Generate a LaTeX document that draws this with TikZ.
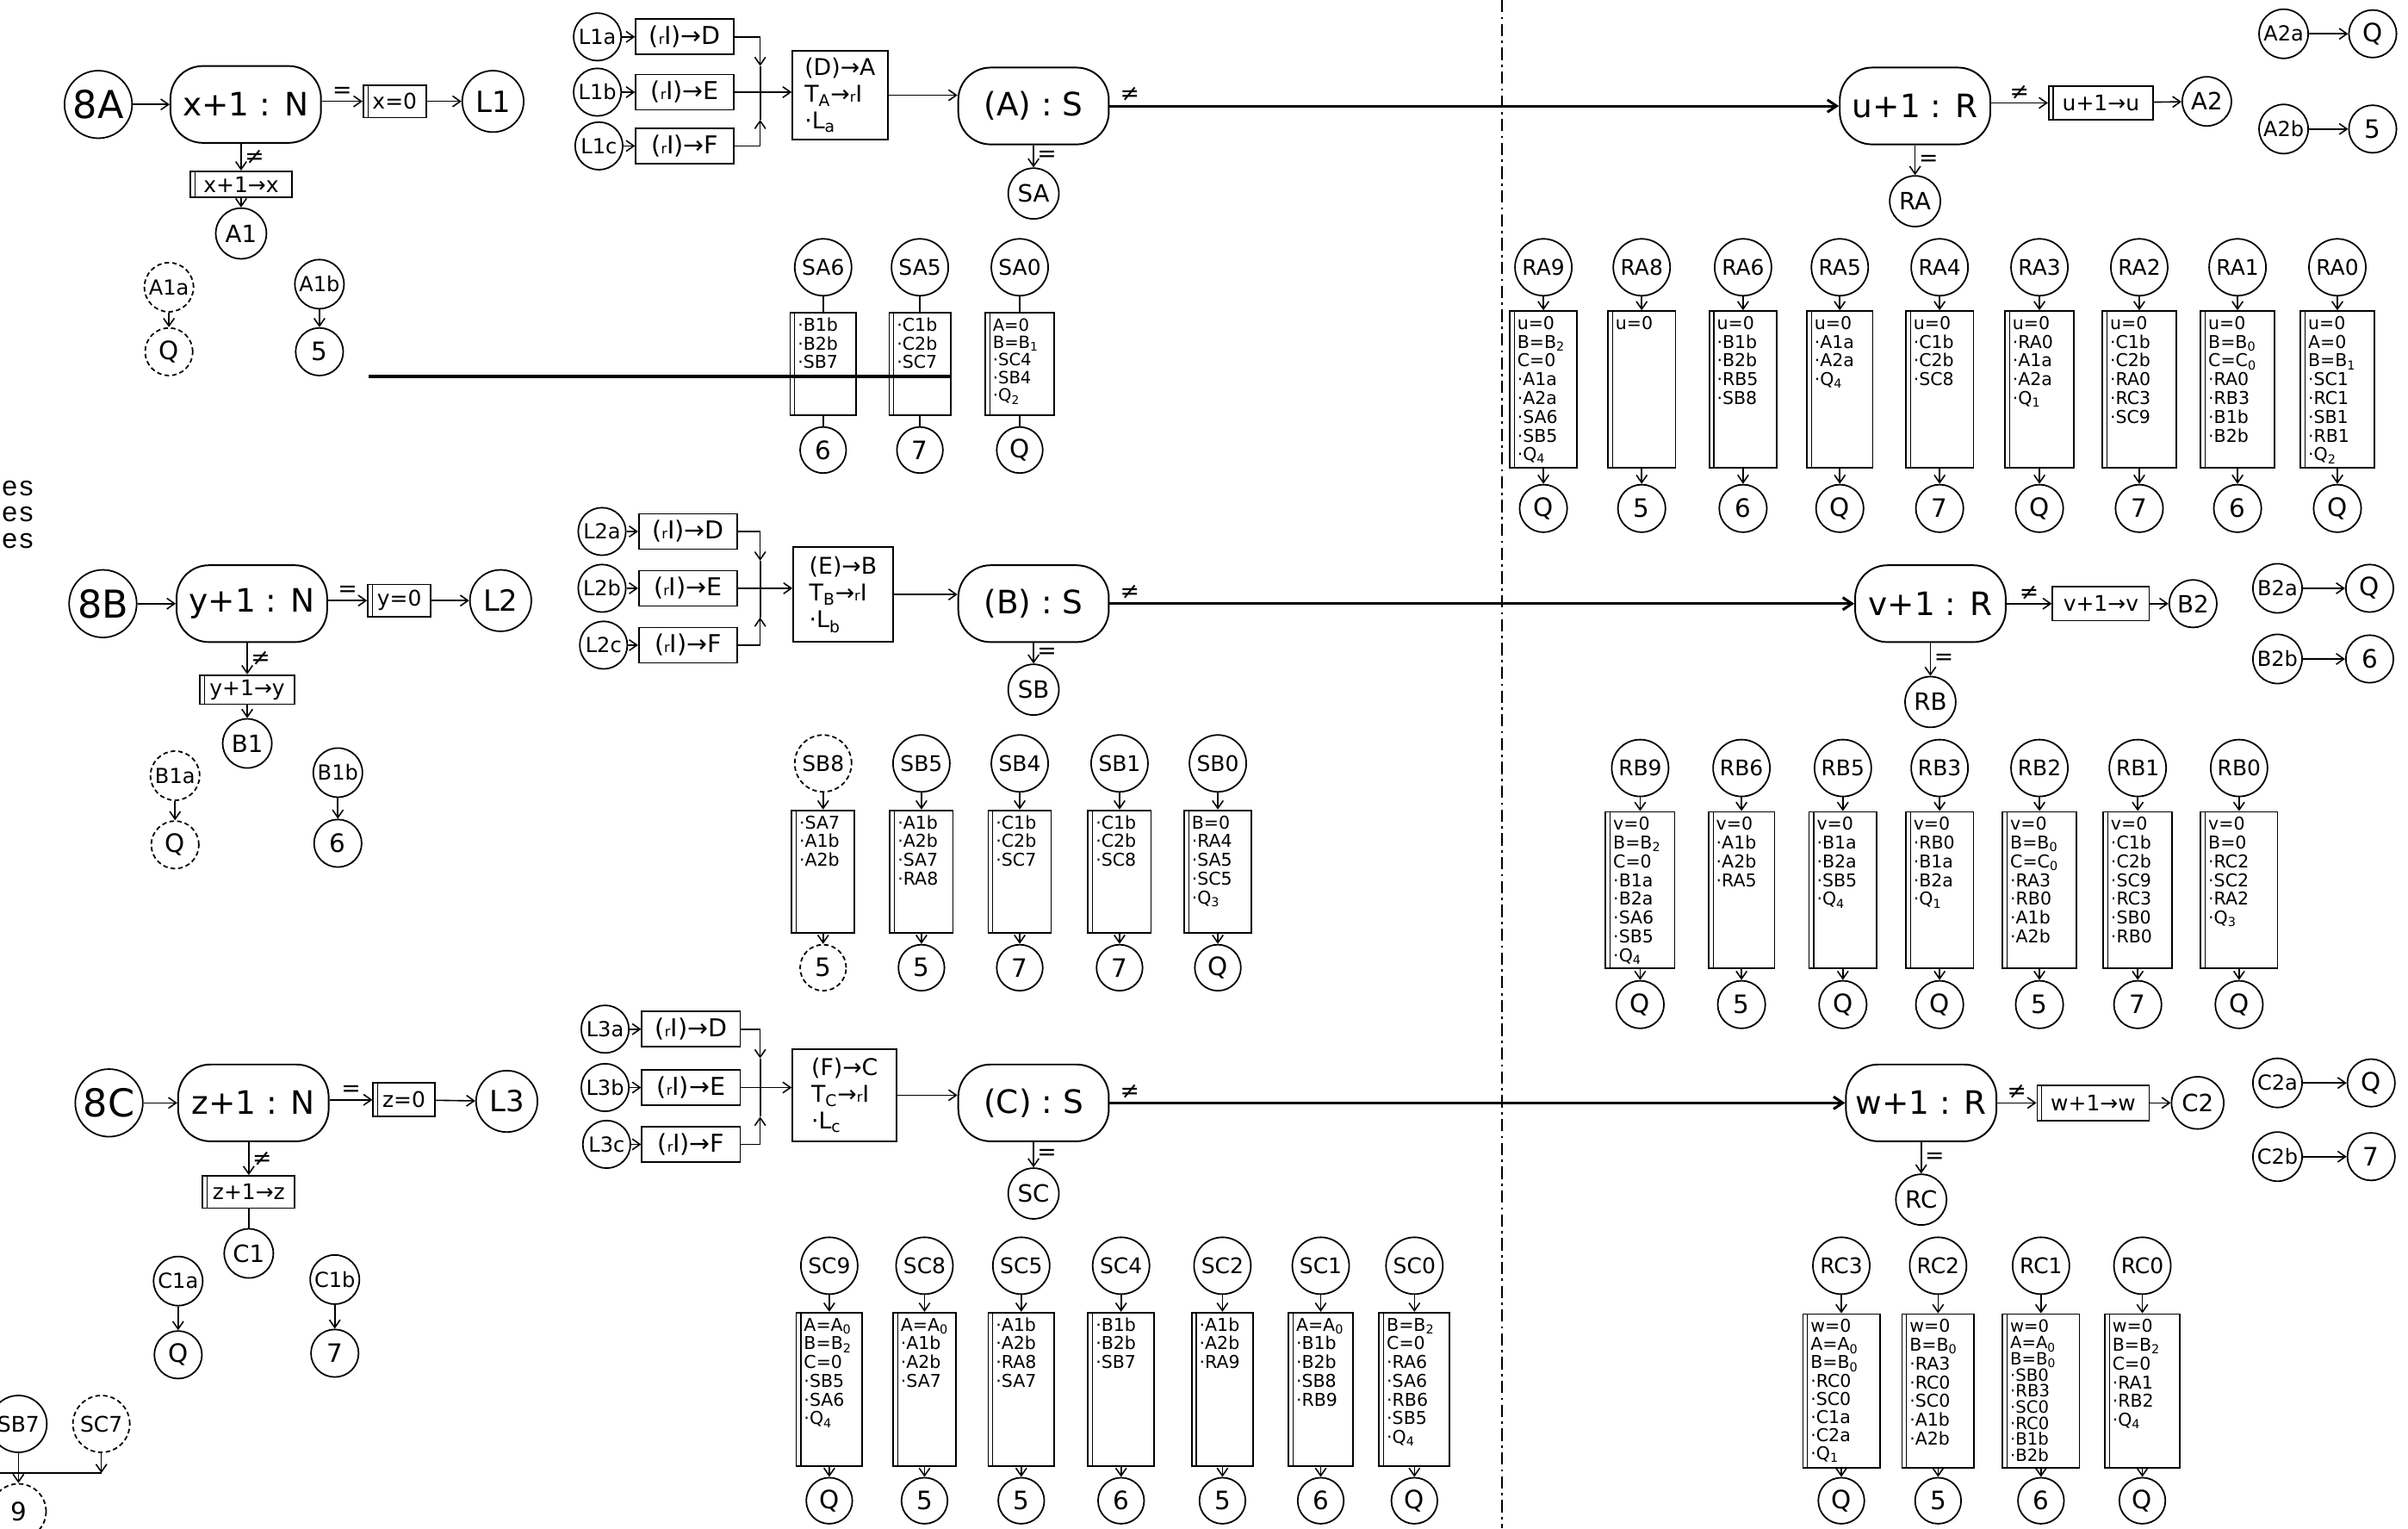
\documentclass[tikz,border=0pt]{standalone}
\usepackage{fontspec}
\setmainfont{DejaVu Sans}
\newfontfamily\typew{Liberation Mono}
\usetikzlibrary{arrows.meta}
\newcommand{\smr}{{\fontsize{9}{9}\selectfont r}}
\newcommand{\regI}{(\smr I)}
\begin{document}
\begin{tikzpicture}[x=1pt,y=-1pt,line width=1pt,
  arr/.style={-{Straight Barb[length=5pt,width=7pt]},line width=0.9pt},
  main/.style={-{Straight Barb[length=6pt,width=8pt]},line width=1.7pt},
  cir/.style={draw,circle,inner sep=0pt,minimum size=#1,line width=1pt},
  bigc/.style={cir=44pt,font=\fontsize{25}{27}\selectfont},
  lc/.style={cir=40pt,font=\fontsize{19}{21}\selectfont},
  mc/.style={cir=33pt,font=\fontsize{15.5}{17}\selectfont},
  sc/.style={cir=32pt,font=\fontsize{13.5}{15}\selectfont},
  hc/.style={cir=37pt,font=\fontsize{14}{16}\selectfont},
  ec/.style={cir=31pt,font=\fontsize{16.5}{18}\selectfont},
  faint/.style={densely dashed},
  term/.style={draw,rounded corners=21pt,minimum width=98pt,minimum height=50pt,inner sep=2pt,font=\fontsize{21}{23}\selectfont,line width=1.1pt},
  dl/.style={path picture={\draw[line width=0.7pt] ([xshift=3pt]path picture bounding box.south west) -- ([xshift=3pt]path picture bounding box.north west);}},
  sbox/.style={draw,dl,line width=1pt,inner xsep=6pt,inner ysep=1pt,minimum height=#1,font=\fontsize{14}{16}\selectfont},
  pbox/.style={draw,line width=1pt,inner xsep=6pt,inner ysep=1pt,minimum height=#1,font=\fontsize{14}{16}\selectfont},
  rbox/.style={draw,line width=1pt,minimum width=64pt,minimum height=23pt,inner sep=2pt,font=\fontsize{16}{18}\selectfont},
  bbox/.style={draw,line width=1pt,align=left,inner sep=4pt,font=\fontsize{15}{17.5}\selectfont},
  lbox/.style 2 args={draw,dl,line width=1pt,anchor=north,inner xsep=5pt,inner ysep=3pt,align=left,text width=#1,text height=9pt,text depth=#2,font=\fontsize{11.5}{12.2}\selectfont},
  lbl/.style={font=\fontsize{15}{17}\selectfont,inner sep=2pt},
  esx/.style={font=\typew\fontsize{18}{19}\selectfont,anchor=east,inner sep=0pt}
]
\useasboundingbox (0,0) rectangle (1568,995);
\draw[line width=0.7pt,dash pattern=on 8pt off 3pt on 1.5pt off 3pt] (978,0) -- (978,995);

\node[esx] (es1) at (23,318) {es};
\node[esx] (es2) at (23,335) {es};
\node[esx] (es3) at (23,352) {es};

% ================= ROW A =================
\node[bigc] (n8A) at (64,68) {8A};
\node[term] (NA) at (160,68) {x+1 : N};
\node[sbox=21pt] (xA0) at (257,66) {x=0};
\node[lc] (L1) at (321,66) {L1};
\draw[arr] (n8A) -- (NA);
\draw[arr] (NA.east |- xA0) -- node[lbl,above] (eqA) {=} (xA0);
\draw[arr] (xA0) -- (L1);
\node[sbox=17pt,minimum width=66pt] (xA1) at (157,120) {x+1→x};
\draw[arr] (xA1 |- NA.south) -- node[lbl,right] (neA1) {≠} (xA1);
\node[mc] (A1) at (157,152) {A1};
\draw[arr] (xA1) -- (A1);
\node[sc,faint] (A1a) at (110,187) {A1a};
\node[ec,faint] (qA1a) at (110,229) {Q};
\draw[arr] (A1a) -- (qA1a);
\node[sc] (A1b) at (208,185) {A1b};
\node[ec] (vA1b) at (208,229) {5};
\draw[arr] (A1b) -- (vA1b);
\draw[line width=2.4pt] (240,245) -- (619,245);

\node[sc,minimum size=31pt] (L1a) at (389,24) {L1a};
\node[rbox] (DA) at (446,24) {\regI→D};
\node[sc,minimum size=31pt] (L1b) at (389,60) {L1b};
\node[rbox] (EA) at (446,60) {\regI→E};
\node[sc,minimum size=31pt] (L1c) at (390,95) {L1c};
\node[rbox] (FA) at (446,95) {\regI→F};
\draw[arr] (L1a) -- (DA);
\draw[arr] (L1b) -- (EA);
\draw[arr] (L1c) -- (FA);
\coordinate (jA) at (495,60);
\coordinate (jAt) at (495,43);
\coordinate (jAb) at (495,78);
\draw[arr] (DA.east) -| (jAt);
\draw (jAt) -- (jA);
\draw[arr] (FA.east) -| (jAb);
\draw (jAb) -- (jA);
\node[bbox,minimum width=62pt,minimum height=58pt] (TA) at (547,62) {(D)→A\\T\textsubscript{A}→\smr I\\·L\textsubscript{a}};
\draw[arr] (EA) -- (EA -| TA.west);
\node[term] (TSA) at (673,69) {(A) : S};
\draw[arr] (TA.east) -- (TA.east -| TSA.west);
\node[mc] (cSA) at (673,126) {SA};
\draw[arr] (TSA) -- node[lbl,right] (eqSA) {=} (cSA);
\node[term] (TRA) at (1247,69) {u+1 : R};
\draw[main] (TSA) -- node[lbl,above right,pos=0,xshift=4pt] (neA) {≠} (TRA);
\node[sbox=22pt,minimum width=68pt] (uA) at (1368,67) {u+1→u};
\draw[arr] (TRA.east |- uA) -- node[lbl,above] (neuA) {≠} (uA);
\node[mc,minimum size=32pt] (A2) at (1437,66) {A2};
\draw[arr] (uA) -- (A2);
\node[mc] (cRA) at (1247,131) {RA};
\draw[arr] (TRA) -- node[lbl,right] (eqRA) {=} (cRA);
\node[sc] (A2a) at (1487,22) {A2a};
\node[ec] (qA2a) at (1545,22) {Q};
\draw[arr] (A2a) -- (qA2a);
\node[sc] (A2b) at (1487,84) {A2b};
\node[ec] (vA2b) at (1545,84) {5};
\draw[arr] (A2b) -- (vA2b);

% SA list
\node[hc] (SA6) at (536,174) {SA6};
\node[lbox={33pt}{52pt}] (bSA6) at (536,203) {·B1b\\·B2b\\·SB7};
\node[ec,minimum size=30pt] (eSA6) at (536,293) {6};
\draw (SA6) -- (bSA6); \draw (bSA6) -- (eSA6);
\node[hc] (SA5) at (599,174) {SA5};
\node[lbox={30pt}{52pt}] (bSA5) at (599,203) {·C1b\\·C2b\\·SC7};
\node[ec,minimum size=30pt] (eSA5) at (599,293) {7};
\draw (SA5) -- (bSA5); \draw (bSA5) -- (eSA5);
\node[hc] (SA0) at (664,174) {SA0};
\node[lbox={35pt}{52pt},font=\fontsize{11}{11.4}\selectfont] (bSA0) at (664,203) {A=0\\B=B\textsubscript{1}\\·SC4\\·SB4\\·Q\textsubscript{2}};
\node[ec,minimum size=30pt] (eSA0) at (664,293) {Q};
\draw (SA0) -- (bSA0); \draw (bSA0) -- (eSA0);

% RA list
\node[hc] (RA9) at (1005,174) {RA9};
\node[lbox={34pt}{87pt}] (bRA9) at (1005,202) {u=0\\B=B\textsubscript{2}\\C=0\\·A1a\\·A2a\\·SA6\\·SB5\\·Q\textsubscript{4}};
\node[ec] (eRA9) at (1005,331) {Q};
\draw[arr] (RA9) -- (bRA9); \draw[arr] (bRA9) -- (eRA9);
\node[hc] (RA8) at (1069,174) {RA8};
\node[lbox={34pt}{87pt}] (bRA8) at (1069,202) {u=0};
\node[ec] (eRA8) at (1069,331) {5};
\draw[arr] (RA8) -- (bRA8); \draw[arr] (bRA8) -- (eRA8);
\node[hc] (RA6) at (1135,174) {RA6};
\node[lbox={34pt}{87pt}] (bRA6) at (1135,202) {u=0\\·B1b\\·B2b\\·RB5\\·SB8};
\node[ec] (eRA6) at (1135,331) {6};
\draw[arr] (RA6) -- (bRA6); \draw[arr] (bRA6) -- (eRA6);
\node[hc] (RA5) at (1198,174) {RA5};
\node[lbox={33pt}{87pt}] (bRA5) at (1198,202) {u=0\\·A1a\\·A2a\\·Q\textsubscript{4}};
\node[ec] (eRA5) at (1198,331) {Q};
\draw[arr] (RA5) -- (bRA5); \draw[arr] (bRA5) -- (eRA5);
\node[hc] (RA4) at (1263,174) {RA4};
\node[lbox={34pt}{87pt}] (bRA4) at (1263,202) {u=0\\·C1b\\·C2b\\·SC8};
\node[ec] (eRA4) at (1263,331) {7};
\draw[arr] (RA4) -- (bRA4); \draw[arr] (bRA4) -- (eRA4);
\node[hc] (RA3) at (1328,174) {RA3};
\node[lbox={35pt}{87pt}] (bRA3) at (1328,202) {u=0\\·RA0\\·A1a\\·A2a\\·Q\textsubscript{1}};
\node[ec] (eRA3) at (1328,331) {Q};
\draw[arr] (RA3) -- (bRA3); \draw[arr] (bRA3) -- (eRA3);
\node[hc] (RA2) at (1393,174) {RA2};
\node[lbox={38pt}{87pt}] (bRA2) at (1393,202) {u=0\\·C1b\\·C2b\\·RA0\\·RC3\\·SC9};
\node[ec] (eRA2) at (1393,331) {7};
\draw[arr] (RA2) -- (bRA2); \draw[arr] (bRA2) -- (eRA2);
\node[hc] (RA1) at (1457,174) {RA1};
\node[lbox={38pt}{87pt}] (bRA1) at (1457,202) {u=0\\B=B\textsubscript{0}\\C=C\textsubscript{0}\\·RA0\\·RB3\\·B1b\\·B2b};
\node[ec] (eRA1) at (1457,331) {6};
\draw[arr] (RA1) -- (bRA1); \draw[arr] (bRA1) -- (eRA1);
\node[hc] (RA0) at (1522,174) {RA0};
\node[lbox={38pt}{87pt}] (bRA0) at (1522,202) {u=0\\A=0\\B=B\textsubscript{1}\\·SC1\\·RC1\\·SB1\\·RB1\\·Q\textsubscript{2}};
\node[ec] (eRA0) at (1522,331) {Q};
\draw[arr] (RA0) -- (bRA0); \draw[arr] (bRA0) -- (eRA0);

% ================= ROW B =================
\node[bigc] (n8B) at (67,393) {8B};
\node[term] (NB) at (164,393) {y+1 : N};
\node[sbox=21pt] (yB0) at (260,391) {y=0};
\node[lc] (L2) at (326,391) {L2};
\draw[arr] (n8B) -- (NB);
\draw[arr] (NB.east |- yB0) -- node[lbl,above] (eqB) {=} (yB0);
\draw[arr] (yB0) -- (L2);
\node[sbox=19pt,minimum width=62pt] (yB1) at (161,449) {y+1→y};
\draw[arr] (yB1 |- NB.south) -- node[lbl,right] (neB1) {≠} (yB1);
\node[mc,minimum size=32pt] (B1) at (161,484) {B1};
\draw[arr] (yB1) -- (B1);
\node[sc,faint] (B1a) at (114,505) {B1a};
\node[ec,faint] (qB1a) at (114,550) {Q};
\draw[arr] (B1a) -- (qB1a);
\node[sc] (B1b) at (220,503) {B1b};
\node[ec] (sB1b) at (220,549) {6};
\draw[arr] (B1b) -- (sB1b);

\node[sc,minimum size=31pt] (L2a) at (392,346) {L2a};
\node[rbox] (DB) at (448,346) {\regI→D};
\node[sc,minimum size=31pt] (L2b) at (392,383) {L2b};
\node[rbox] (EB) at (448,383) {\regI→E};
\node[sc,minimum size=31pt] (L2c) at (393,420) {L2c};
\node[rbox] (FB) at (448,420) {\regI→F};
\draw[arr] (L2a) -- (DB);
\draw[arr] (L2b) -- (EB);
\draw[arr] (L2c) -- (FB);
\coordinate (jB) at (495,383);
\coordinate (jBt) at (495,365);
\coordinate (jBb) at (495,402);
\draw[arr] (DB.east) -| (jBt);
\draw (jBt) -- (jB);
\draw[arr] (FB.east) -| (jBb);
\draw (jBb) -- (jB);
\node[bbox,minimum width=65pt,minimum height=62pt] (TB) at (549,387) {(E)→B\\T\textsubscript{B}→\smr I\\·L\textsubscript{b}};
\draw[arr] (EB) -- (EB -| TB.west);
\node[term] (TSB) at (673,393) {(B) : S};
\draw[arr] (TB.east) -- (TB.east -| TSB.west);
\node[mc] (cSB) at (673,449) {SB};
\draw[arr] (TSB) -- node[lbl,right] (eqSB) {=} (cSB);
\node[term] (TRB) at (1257,393) {v+1 : R};
\draw[main] (TSB) -- node[lbl,above right,pos=0,xshift=4pt] (neB) {≠} (TRB);
\node[pbox=22pt,minimum width=63pt] (vB) at (1368,393) {v+1→v};
\draw[arr] (TRB) -- node[lbl,above] (nevB) {≠} (vB);
\node[mc,minimum size=31pt] (B2) at (1428,393) {B2};
\draw[arr] (vB) -- (B2);
\node[mc] (cRB) at (1257,457) {RB};
\draw[arr] (TRB) -- node[lbl,right] (eqRB) {=} (cRB);
\node[sc] (B2a) at (1483,383) {B2a};
\node[ec] (qB2a) at (1543,383) {Q};
\draw[arr] (B2a) -- (qB2a);
\node[sc] (B2b) at (1483,429) {B2b};
\node[ec] (sB2b) at (1543,429) {6};
\draw[arr] (B2b) -- (sB2b);

% SB list
\node[hc,faint] (SB8) at (536,497) {SB8};
\node[lbox={31pt}{65pt}] (bSB8) at (536,527) {·SA7\\·A1b\\·A2b};
\node[ec,faint,minimum size=30pt] (eSB8) at (536,630) {5};
\draw[arr] (SB8) -- (bSB8); \draw[arr] (bSB8) -- (eSB8);
\node[hc] (SB5) at (600,497) {SB5};
\node[lbox={31pt}{65pt}] (bSB5) at (600,527) {·A1b\\·A2b\\·SA7\\·RA8};
\node[ec,minimum size=30pt] (eSB5) at (600,630) {5};
\draw[arr] (SB5) -- (bSB5); \draw[arr] (bSB5) -- (eSB5);
\node[hc] (SB4) at (664,497) {SB4};
\node[lbox={31pt}{65pt}] (bSB4) at (664,527) {·C1b\\·C2b\\·SC7};
\node[ec,minimum size=30pt] (eSB4) at (664,630) {7};
\draw[arr] (SB4) -- (bSB4); \draw[arr] (bSB4) -- (eSB4);
\node[hc] (SB1) at (729,497) {SB1};
\node[lbox={31pt}{65pt}] (bSB1) at (729,527) {·C1b\\·C2b\\·SC8};
\node[ec,minimum size=30pt] (eSB1) at (729,630) {7};
\draw[arr] (SB1) -- (bSB1); \draw[arr] (bSB1) -- (eSB1);
\node[hc] (SB0) at (793,497) {SB0};
\node[lbox={34pt}{65pt}] (bSB0) at (793,527) {B=0\\·RA4\\·SA5\\·SC5\\·Q\textsubscript{3}};
\node[ec,minimum size=30pt] (eSB0) at (793,630) {Q};
\draw[arr] (SB0) -- (bSB0); \draw[arr] (bSB0) -- (eSB0);

% RB list
\node[hc] (RB9) at (1068,500) {RB9};
\node[lbox={35pt}{87pt}] (bRB9) at (1068,528) {v=0\\B=B\textsubscript{2}\\C=0\\·B1a\\·B2a\\·SA6\\·SB5\\·Q\textsubscript{4}};
\node[ec] (eRB9) at (1068,654) {Q};
\draw[arr] (RB9) -- (bRB9); \draw[arr] (bRB9) -- (eRB9);
\node[hc] (RB6) at (1134,500) {RB6};
\node[lbox={33pt}{87pt}] (bRB6) at (1134,528) {v=0\\·A1b\\·A2b\\·RA5};
\node[ec] (eRB6) at (1134,654) {5};
\draw[arr] (RB6) -- (bRB6); \draw[arr] (bRB6) -- (eRB6);
\node[hc] (RB5) at (1200,500) {RB5};
\node[lbox={34pt}{87pt}] (bRB5) at (1200,528) {v=0\\·B1a\\·B2a\\·SB5\\·Q\textsubscript{4}};
\node[ec] (eRB5) at (1200,654) {Q};
\draw[arr] (RB5) -- (bRB5); \draw[arr] (bRB5) -- (eRB5);
\node[hc] (RB3) at (1263,500) {RB3};
\node[lbox={34pt}{87pt}] (bRB3) at (1263,528) {v=0\\·RB0\\·B1a\\·B2a\\·Q\textsubscript{1}};
\node[ec] (eRB3) at (1263,654) {Q};
\draw[arr] (RB3) -- (bRB3); \draw[arr] (bRB3) -- (eRB3);
\node[hc] (RB2) at (1328,500) {RB2};
\node[lbox={38pt}{87pt}] (bRB2) at (1328,528) {v=0\\B=B\textsubscript{0}\\C=C\textsubscript{0}\\·RA3\\·RB0\\·A1b\\·A2b};
\node[ec] (eRB2) at (1328,654) {5};
\draw[arr] (RB2) -- (bRB2); \draw[arr] (bRB2) -- (eRB2);
\node[hc] (RB1) at (1392,500) {RB1};
\node[lbox={35pt}{87pt}] (bRB1) at (1392,528) {v=0\\·C1b\\·C2b\\·SC9\\·RC3\\·SB0\\·RB0};
\node[ec] (eRB1) at (1392,654) {7};
\draw[arr] (RB1) -- (bRB1); \draw[arr] (bRB1) -- (eRB1);
\node[hc] (RB0) at (1458,500) {RB0};
\node[lbox={40pt}{87pt}] (bRB0) at (1458,528) {v=0\\B=0\\·RC2\\·SC2\\·RA2\\·Q\textsubscript{3}};
\node[ec] (eRB0) at (1458,654) {Q};
\draw[arr] (RB0) -- (bRB0); \draw[arr] (bRB0) -- (eRB0);

% ================= ROW C =================
\node[bigc] (n8C) at (71,718) {8C};
\node[term] (NC) at (165,718) {z+1 : N};
\node[sbox=22pt] (zC0) at (263,716) {z=0};
\node[lc] (L3) at (330,717) {L3};
\draw[arr] (n8C) -- (NC);
\draw[arr] (NC.east |- zC0) -- node[lbl,above] (eqC) {=} (zC0);
\draw[arr] (zC0) -- (L3);
\node[sbox=21pt,minimum width=60pt] (zC1) at (162,776) {z+1→z};
\draw[arr] (zC1 |- NC.south) -- node[lbl,right] (neC1) {≠} (zC1);
\node[mc,minimum size=32pt] (C1) at (162,816) {C1};
\draw (zC1) -- (C1);
\node[sc] (C1a) at (116,834) {C1a};
\node[ec] (qC1a) at (116,882) {Q};
\draw[arr] (C1a) -- (qC1a);
\node[sc] (C1b) at (218,833) {C1b};
\node[ec] (sC1b) at (218,881) {7};
\draw[arr] (C1b) -- (sC1b);

\node[hc] (SB7) at (12,927) {SB7};
\node[hc,faint] (SC7) at (66,927) {SC7};
\node[ec,faint,minimum size=36pt] (n9) at (12,984) {9};
\coordinate (jSC7) at (66,959);
\coordinate (lftC) at (-10,959);
\draw[arr] (SC7) -- (jSC7);
\draw (lftC) -- (jSC7);
\draw[arr] (SB7) -- (n9);

\node[sc,minimum size=31pt] (L3a) at (394,670) {L3a};
\node[rbox] (DC) at (450,670) {\regI→D};
\node[sc,minimum size=31pt] (L3b) at (394,708) {L3b};
\node[rbox] (EC) at (450,708) {\regI→E};
\node[sc,minimum size=31pt] (L3c) at (395,745) {L3c};
\node[rbox] (FC) at (450,745) {\regI→F};
\draw[arr] (L3a) -- (DC);
\draw[arr] (L3b) -- (EC);
\draw[arr] (L3c) -- (FC);
\coordinate (jC) at (495,708);
\coordinate (jCt) at (495,689);
\coordinate (jCb) at (495,727);
\draw[arr] (DC.east) -| (jCt);
\draw (jCt) -- (jC);
\draw[arr] (FC.east) -| (jCb);
\draw (jCb) -- (jC);
\node[bbox,minimum width=68pt,minimum height=60pt] (TC) at (550,713) {(F)→C\\T\textsubscript{C}→\smr I\\·L\textsubscript{c}};
\draw[arr] (EC) -- (EC -| TC.west);
\node[term] (TSC) at (673,718) {(C) : S};
\draw[arr] (TC.east) -- (TC.east -| TSC.west);
\node[mc] (cSC) at (673,777) {SC};
\draw[arr] (TSC) -- node[lbl,right] (eqSC) {=} (cSC);
\node[term] (TRC) at (1251,718) {w+1 : R};
\draw[main] (TSC) -- node[lbl,above right,pos=0,xshift=4pt] (neC) {≠} (TRC);
\node[sbox=23pt,minimum width=73pt] (wC) at (1363,718) {w+1→w};
\draw[arr] (TRC) -- node[lbl,above] (newC) {≠} (wC);
\node[mc,minimum size=34pt] (C2) at (1431,718) {C2};
\draw[arr] (wC) -- (C2);
\node[mc] (cRC) at (1251,781) {RC};
\draw[arr] (TRC) -- node[lbl,right] (eqRC) {=} (cRC);
\node[sc] (C2a) at (1483,705) {C2a};
\node[ec] (qC2a) at (1544,705) {Q};
\draw[arr] (C2a) -- (qC2a);
\node[sc] (C2b) at (1483,753) {C2b};
\node[ec] (sC2b) at (1544,753) {7};
\draw[arr] (C2b) -- (sC2b);

% SC list
\node[hc] (SC9) at (540,824) {SC9};
\node[lbox={33pt}{85pt}] (bSC9) at (540,854) {A=A\textsubscript{0}\\B=B\textsubscript{2}\\C=0\\·SB5\\·SA6\\·Q\textsubscript{4}};
\node[ec,minimum size=30pt] (eSC9) at (540,977) {Q};
\draw[arr] (SC9) -- (bSC9); \draw[arr] (bSC9) -- (eSC9);
\node[hc] (SC8) at (602,824) {SC8};
\node[lbox={31pt}{85pt}] (bSC8) at (602,854) {A=A\textsubscript{0}\\·A1b\\·A2b\\·SA7};
\node[ec,minimum size=30pt] (eSC8) at (602,977) {5};
\draw[arr] (SC8) -- (bSC8); \draw[arr] (bSC8) -- (eSC8);
\node[hc] (SC5) at (665,824) {SC5};
\node[lbox={33pt}{85pt}] (bSC5) at (665,854) {·A1b\\·A2b\\·RA8\\·SA7};
\node[ec,minimum size=30pt] (eSC5) at (665,977) {5};
\draw[arr] (SC5) -- (bSC5); \draw[arr] (bSC5) -- (eSC5);
\node[hc] (SC4) at (730,824) {SC4};
\node[lbox={33pt}{85pt}] (bSC4) at (730,854) {·B1b\\·B2b\\·SB7};
\node[ec,minimum size=30pt] (eSC4) at (730,977) {6};
\draw[arr] (SC4) -- (bSC4); \draw[arr] (bSC4) -- (eSC4);
\node[hc] (SC2) at (796,824) {SC2};
\node[lbox={30pt}{85pt}] (bSC2) at (796,854) {·A1b\\·A2b\\·RA9};
\node[ec,minimum size=30pt] (eSC2) at (796,977) {5};
\draw[arr] (SC2) -- (bSC2); \draw[arr] (bSC2) -- (eSC2);
\node[hc] (SC1) at (860,824) {SC1};
\node[lbox={32pt}{85pt}] (bSC1) at (860,854) {A=A\textsubscript{0}\\·B1b\\·B2b\\·SB8\\·RB9};
\node[ec,minimum size=30pt] (eSC1) at (860,977) {6};
\draw[arr] (SC1) -- (bSC1); \draw[arr] (bSC1) -- (eSC1);
\node[hc] (SC0) at (921,824) {SC0};
\node[lbox={36pt}{85pt}] (bSC0) at (921,854) {B=B\textsubscript{2}\\C=0\\·RA6\\·SA6\\·RB6\\·SB5\\·Q\textsubscript{4}};
\node[ec,minimum size=30pt] (eSC0) at (921,977) {Q};
\draw[arr] (SC0) -- (bSC0); \draw[arr] (bSC0) -- (eSC0);

% RC list
\node[hc] (RC3) at (1199,824) {RC3};
\node[lbox={40pt}{85pt},font=\fontsize{11.5}{11.8}\selectfont] (bRC3) at (1199,855) {w=0\\A=A\textsubscript{0}\\B=B\textsubscript{0}\\·RC0\\·SC0\\·C1a\\·C2a\\·Q\textsubscript{1}};
\node[ec,minimum size=30pt] (eRC3) at (1199,977) {Q};
\draw[arr] (RC3) -- (bRC3); \draw[arr] (bRC3) -- (eRC3);
\node[hc] (RC2) at (1262,824) {RC2};
\node[lbox={37pt}{85pt}] (bRC2) at (1262,855) {w=0\\B=B\textsubscript{0}\\·RA3\\·RC0\\·SC0\\·A1b\\·A2b};
\node[ec,minimum size=30pt] (eRC2) at (1262,977) {5};
\draw[arr] (RC2) -- (bRC2); \draw[arr] (bRC2) -- (eRC2);
\node[hc] (RC1) at (1329,824) {RC1};
\node[lbox={40pt}{85pt},font=\fontsize{11}{10.5}\selectfont] (bRC1) at (1329,855) {w=0\\A=A\textsubscript{0}\\B=B\textsubscript{0}\\·SB0\\·RB3\\·SC0\\·RC0\\·B1b\\·B2b};
\node[ec,minimum size=30pt] (eRC1) at (1329,977) {6};
\draw[arr] (RC1) -- (bRC1); \draw[arr] (bRC1) -- (eRC1);
\node[hc] (RC0) at (1395,824) {RC0};
\node[lbox={39pt}{85pt}] (bRC0) at (1395,855) {w=0\\B=B\textsubscript{2}\\C=0\\·RA1\\·RB2\\·Q\textsubscript{4}};
\node[ec,minimum size=30pt] (eRC0) at (1395,977) {Q};
\draw[arr] (RC0) -- (bRC0); \draw[arr] (bRC0) -- (eRC0);
\end{tikzpicture}
\end{document}
